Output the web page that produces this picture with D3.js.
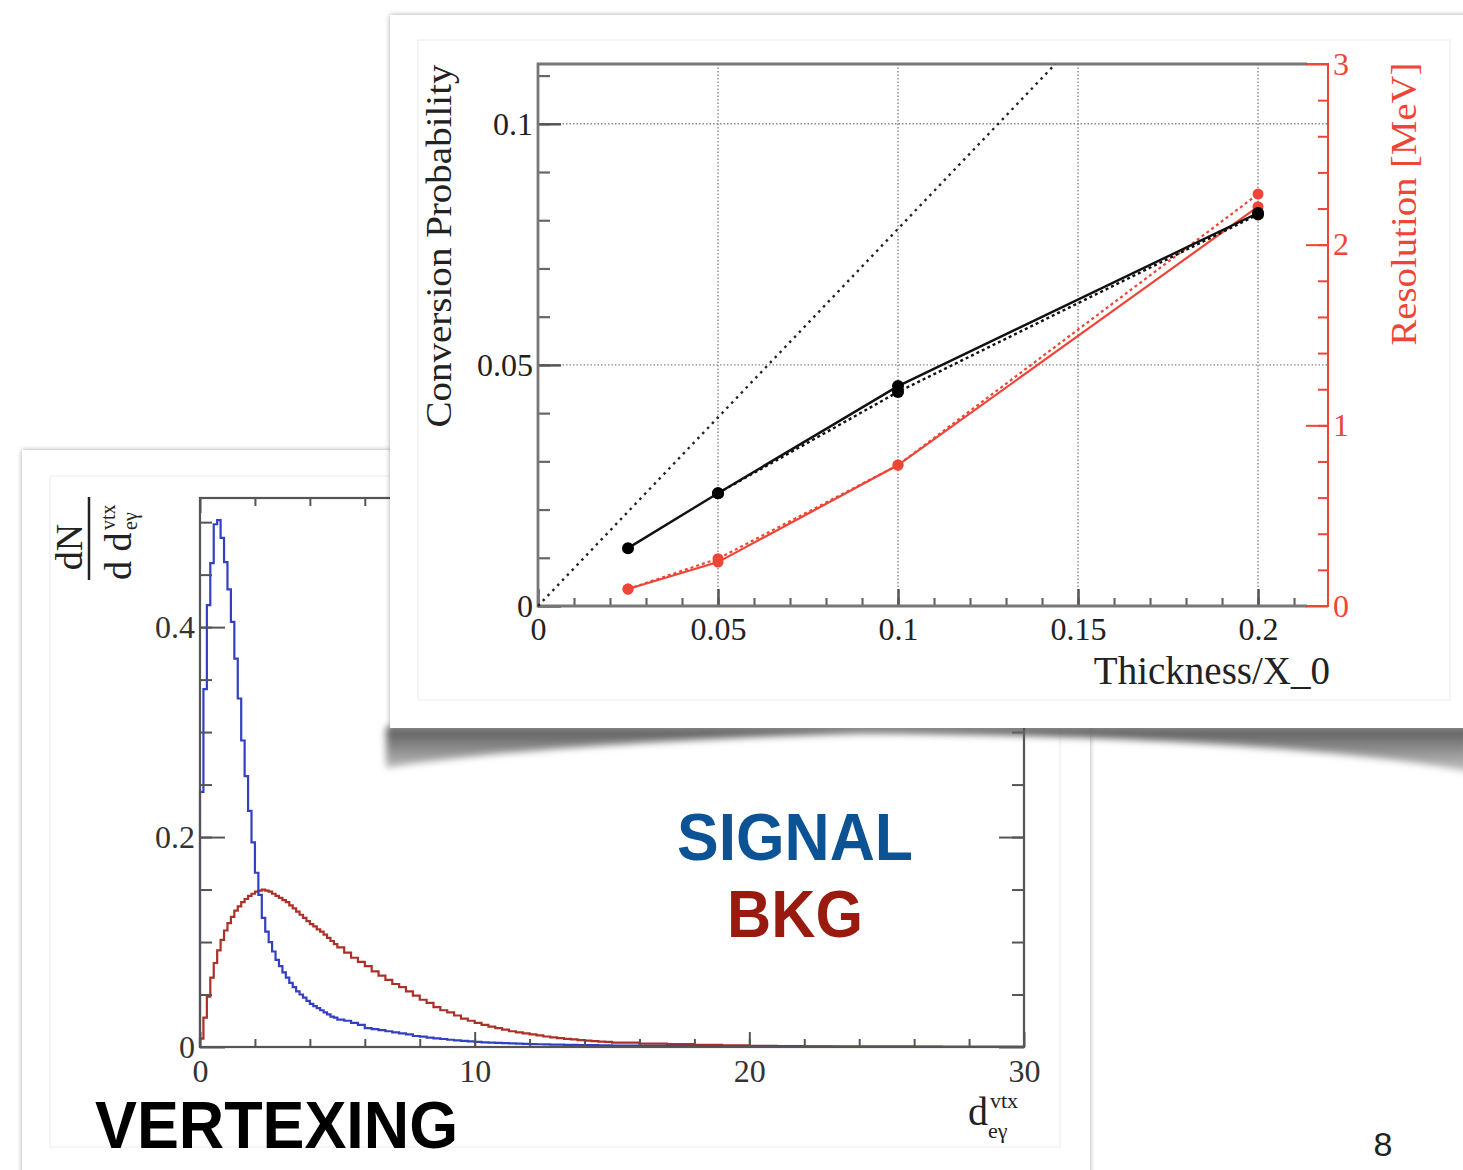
<!DOCTYPE html>
<html>
<head>
<meta charset="utf-8">
<script src="https://cdn.jsdelivr.net/npm/d3@7"></script>
<style>
  body { margin: 0; background: #fff; }
  svg { display: block; }
</style>
</head>
<body>
<script>
// front plot: conversion probability / resolution vs thickness
const thickness = [0.025, 0.05, 0.1, 0.2];
const convProb = [0.0120, 0.0234, 0.0456, 0.0815];
const thicknessAlt = [0.05, 0.1, 0.2];
const convProbAlt = [0.0234, 0.0444, 0.0812];
const resolution = [0.094, 0.243, 0.78, 2.21];
const resolutionAlt = [0.094, 0.262, 0.78, 2.28];
const idealX = [0, 0.1437];
const idealY = [0, 0.1124];
const convTicksX = [0, 0.05, 0.1, 0.15, 0.2];
const convTicksY = [0, 0.05, 0.1];
const resTicks = [0, 1, 2, 3];

// back plot: vertex distance, signal vs background
const binRanges = [[0, 5, 0.125], [5, 15, 0.25], [15, 30, 1]];
const signalFine = [0.243, 0.341, 0.421, 0.461, 0.498, 0.502, 0.485, 0.462, 0.436, 0.405,
  0.370, 0.332, 0.292, 0.258, 0.225, 0.195, 0.166, 0.145, 0.123, 0.110,
  0.100, 0.091, 0.083, 0.077, 0.071, 0.066, 0.061, 0.057, 0.053, 0.050,
  0.047, 0.044, 0.041, 0.039, 0.037, 0.035, 0.033, 0.031, 0.029, 0.028];
const signalMid = [0.026, 0.025, 0.023, 0.021, 0.018, 0.017, 0.016, 0.015, 0.014, 0.013,
  0.012, 0.0105, 0.0098, 0.0090, 0.0083, 0.0076, 0.0069, 0.0063, 0.0058, 0.0053,
  0.0049, 0.0045, 0.0042, 0.0039, 0.0036, 0.0034, 0.0032, 0.0030, 0.0028, 0.0026,
  0.0025, 0.0023, 0.0022, 0.0021, 0.0020, 0.0019, 0.0018, 0.0017, 0.0016, 0.0015];
const signalTail = [0.0014, 0.0012, 0.0010, 0.0009, 0.0008, 0.0007, 0.0006, 0.0005,
  0.0004, 0.0004, 0.0003, 0.0003, 0.0002, 0.0002, 0.0001];
const bkgFine = [0.008, 0.028, 0.048, 0.066, 0.080, 0.092, 0.102, 0.111, 0.118, 0.124,
  0.130, 0.134, 0.138, 0.141, 0.144, 0.146, 0.148, 0.149, 0.150, 0.149,
  0.148, 0.146, 0.144, 0.142, 0.140, 0.138, 0.135, 0.132, 0.129, 0.126,
  0.123, 0.120, 0.117, 0.115, 0.112, 0.110, 0.107, 0.104, 0.101, 0.098];
const bkgMid = [0.095, 0.090, 0.085, 0.081, 0.077, 0.072, 0.068, 0.064, 0.060, 0.057,
  0.053, 0.049, 0.045, 0.042, 0.038, 0.035, 0.033, 0.030, 0.027, 0.025,
  0.023, 0.021, 0.0195, 0.018, 0.0165, 0.015, 0.014, 0.013, 0.012, 0.011,
  0.010, 0.0092, 0.0085, 0.0078, 0.0072, 0.0066, 0.0060, 0.0056, 0.0052, 0.0048];
const bkgTail = [0.0042, 0.0033, 0.0027, 0.0021, 0.0016, 0.0012, 0.0009, 0.0007,
  0.0005, 0.0004, 0.0003, 0.0002, 0.00015, 0.0001, 0.0001];
const vtxTicksX = [0, 10, 20, 30];
const vtxTicksY = [0, 0.2, 0.4];

const serif = "'Liberation Serif', 'Times New Roman', serif";
const sans = "'Liberation Sans', Arial, Helvetica, sans-serif";

const svg = d3.select("body").append("svg")
  .attr("width", 1463)
  .attr("height", 1170);

const defs = svg.append("defs");
defs.append("filter").attr("id", "edge")
  .attr("x", "-10%").attr("y", "-10%").attr("width", "120%").attr("height", "120%")
  .append("feDropShadow")
  .attr("dx", 0).attr("dy", 0).attr("stdDeviation", 2.5)
  .attr("flood-color", "#000").attr("flood-opacity", 0.35);
defs.append("filter").attr("id", "soft")
  .attr("x", "-10%").attr("y", "-100%").attr("width", "120%").attr("height", "300%")
  .append("feGaussianBlur").attr("stdDeviation", 3.5);
let shadeGrad = defs.append("linearGradient").attr("id", "shade")
  .attr("gradientUnits", "userSpaceOnUse")
  .attr("x1", 0).attr("y1", 728).attr("x2", 0).attr("y2", 772);
shadeGrad.append("stop").attr("offset", "0%").attr("stop-color", "#5a5a5a");
shadeGrad.append("stop").attr("offset", "100%").attr("stop-color", "#c4c4c4");

function styleAxis(g, color, width, textColor, size) {
  g.select(".domain").remove();
  g.attr("font-family", serif).attr("font-size", size);
  g.selectAll(".tick line").attr("stroke", color).attr("stroke-width", width);
  g.selectAll(".tick text").attr("fill", textColor);
}

// ---------- back card ----------
svg.append("rect")
  .attr("x", 22).attr("y", 450).attr("width", 1068).attr("height", 760)
  .attr("fill", "#fff").attr("filter", "url(#edge)");
svg.append("rect")
  .attr("x", 50).attr("y", 476).attr("width", 1010).attr("height", 671)
  .attr("fill", "none").attr("stroke", "#ececec");

let xV = d3.scaleLinear().domain([0, 30]).range([200, 1024]);
let yV = d3.scaleLinear().domain([0, 0.523]).range([1047, 498]);

let back = svg.append("g");

let edges = [];
binRanges.forEach(function (r) {
  let n = Math.round((r[1] - r[0]) / r[2]);
  for (let i = 0; i < n; i++) {
    edges.push([r[0] + i * r[2], r[0] + (i + 1) * r[2]]);
  }
});

function histPoints(values) {
  let pts = [[0, 0]];
  values.forEach(function (v, i) {
    pts.push([edges[i][0], v], [edges[i][1], v]);
  });
  return pts;
}

let histLine = d3.line()
  .x(function (d) { return xV(d[0]); })
  .y(function (d) { return yV(d[1]); });

back.append("path")
  .datum(histPoints(bkgFine.concat(bkgMid, bkgTail)))
  .attr("d", histLine)
  .attr("fill", "none")
  .attr("stroke", "#ad3026")
  .attr("stroke-width", 2.2);

back.append("path")
  .datum(histPoints(signalFine.concat(signalMid, signalTail)))
  .attr("d", histLine)
  .attr("fill", "none")
  .attr("stroke", "#3340c4")
  .attr("stroke-width", 2.2);

// axes of back plot
back.append("g").attr("transform", "translate(200,0)")
  .call(d3.axisLeft(yV).tickValues(d3.range(0.05, 0.52, 0.05)).tickSize(-12).tickFormat(""))
  .call(g => styleAxis(g, "#555", 2, "#333", 32));
back.append("g").attr("transform", "translate(200,0)")
  .call(d3.axisLeft(yV).tickValues(vtxTicksY).tickSize(-25).tickPadding(5).tickFormat(d3.format("")))
  .call(g => styleAxis(g, "#555", 2, "#333", 32));
back.append("g").attr("transform", "translate(1024,0)")
  .call(d3.axisRight(yV).tickValues(d3.range(0.05, 0.52, 0.05)).tickSize(-12).tickFormat(""))
  .call(g => styleAxis(g, "#555", 2, "#333", 32));
back.append("g").attr("transform", "translate(1024,0)")
  .call(d3.axisRight(yV).tickValues(vtxTicksY).tickSize(-25).tickFormat(""))
  .call(g => styleAxis(g, "#555", 2, "#333", 32));
back.append("g").attr("transform", "translate(0,1047)")
  .call(d3.axisBottom(xV).tickValues(d3.range(2, 30, 2)).tickSize(-8).tickFormat(""))
  .call(g => styleAxis(g, "#555", 2, "#333", 32));
back.append("g").attr("transform", "translate(0,1047)")
  .call(d3.axisBottom(xV).tickValues(vtxTicksX).tickSize(-15).tickPadding(12).tickFormat(d3.format("")))
  .call(g => styleAxis(g, "#555", 2, "#333", 32));
back.append("g").attr("transform", "translate(0,498)")
  .call(d3.axisTop(xV).tickValues(d3.range(2, 30, 2)).tickSize(-8).tickFormat(""))
  .call(g => styleAxis(g, "#555", 2, "#333", 32));
back.append("g").attr("transform", "translate(0,498)")
  .call(d3.axisTop(xV).tickValues(vtxTicksX).tickSize(-15).tickFormat(""))
  .call(g => styleAxis(g, "#555", 2, "#333", 32));
back.append("rect")
  .attr("x", xV(0)).attr("y", yV(0.523))
  .attr("width", xV(30) - xV(0)).attr("height", yV(0) - yV(0.523))
  .attr("fill", "none").attr("stroke", "#555").attr("stroke-width", 2.2);

// fraction label dN / d d_eγ^vtx
let frac = back.append("g")
  .attr("transform", "translate(89,539) rotate(-90)")
  .attr("font-family", serif).attr("fill", "#222");
frac.append("line").attr("x1", -41).attr("x2", 42).attr("y1", 0).attr("y2", 0)
  .attr("stroke", "#222").attr("stroke-width", 2.5);
frac.append("text").attr("x", -8).attr("y", -7).attr("text-anchor", "middle")
  .attr("font-size", 38).text("dN");
frac.append("text").attr("x", -41).attr("y", 42).attr("font-size", 38).text("d d");
frac.append("text").attr("x", 9).attr("y", 26).attr("font-size", 20).text("vtx");
frac.append("text").attr("x", 9).attr("y", 48).attr("font-size", 20).text("eγ");

let xLab = back.append("g").attr("font-family", serif).attr("fill", "#222");
xLab.append("text").attr("x", 968).attr("y", 1125).attr("font-size", 40).text("d");
xLab.append("text").attr("x", 990).attr("y", 1108).attr("font-size", 22).text("vtx");
xLab.append("text").attr("x", 988).attr("y", 1138).attr("font-size", 22).text("eγ");

// ---------- curled shadow under the front card ----------
svg.append("path")
  .attr("d", "M386,727 L386,768 C480,752 650,740 860,733 C1100,734 1350,748 1470,772 L1470,727 Z")
  .attr("fill", "url(#shade)")
  .attr("filter", "url(#soft)");

// ---------- front card ----------
svg.append("rect")
  .attr("x", 390).attr("y", 15).attr("width", 1100).attr("height", 713)
  .attr("fill", "#fff").attr("filter", "url(#edge)");
svg.append("rect")
  .attr("x", 418).attr("y", 40).attr("width", 1032).attr("height", 660)
  .attr("fill", "none").attr("stroke", "#ececec");

let xC = d3.scaleLinear().domain([0, 0.2136]).range([538, 1307]);
let yC = d3.scaleLinear().domain([0, 0.1124]).range([606, 64]);
let yR = d3.scaleLinear().domain([0, 3]).range([606, 64]);

let front = svg.append("g");

// grid
front.selectAll(".vgrid")
  .data(convTicksX.slice(1))
  .enter()
  .append("line")
  .attr("x1", function (d) { return xC(d); })
  .attr("x2", function (d) { return xC(d); })
  .attr("y1", yC(0.1124)).attr("y2", yC(0))
  .attr("stroke", "#888").attr("stroke-width", 1.4).attr("stroke-dasharray", "1.5,2");
front.selectAll(".hgrid")
  .data(convTicksY.slice(1))
  .enter()
  .append("line")
  .attr("x1", xC(0)).attr("x2", 1328)
  .attr("y1", function (d) { return yC(d); })
  .attr("y2", function (d) { return yC(d); })
  .attr("stroke", "#888").attr("stroke-width", 1.4).attr("stroke-dasharray", "1.5,2");

// left axis
front.append("g").attr("transform", "translate(538,0)")
  .call(d3.axisLeft(yC).tickValues(d3.range(0.01, 0.112, 0.01)).tickSize(-12).tickFormat(""))
  .call(g => styleAxis(g, "#666", 2.2, "#222", 32));
front.append("g").attr("transform", "translate(538,0)")
  .call(d3.axisLeft(yC).tickValues(convTicksY).tickSize(-23).tickPadding(5).tickFormat(d3.format("")))
  .call(g => styleAxis(g, "#555", 2.5, "#222", 32));
// bottom axis
front.append("g").attr("transform", "translate(0,606)")
  .call(d3.axisBottom(xC).tickValues(d3.range(0.01, 0.212, 0.01)).tickSize(-8).tickFormat(""))
  .call(g => styleAxis(g, "#666", 2.2, "#222", 32));
front.append("g").attr("transform", "translate(0,606)")
  .call(d3.axisBottom(xC).tickValues(convTicksX).tickSize(-17).tickPadding(11).tickFormat(d3.format("")))
  .call(g => styleAxis(g, "#555", 2.5, "#222", 32));
// frame
front.append("path")
  .attr("d", "M" + xC(0.2136) + "," + yC(0.1124) + "H" + xC(0) + "V" + yC(0) + "H" + xC(0.2136))
  .attr("fill", "none").attr("stroke", "#777").attr("stroke-width", 2.8);

// right (resolution) axis
const red = "#ee4536";
front.append("g").attr("transform", "translate(1328,0)")
  .call(d3.axisRight(yR).tickValues(d3.range(0.2, 3, 0.2)).tickSize(-10).tickFormat(""))
  .call(g => styleAxis(g, red, 2, red, 32));
front.append("g").attr("transform", "translate(1328,0)")
  .call(d3.axisRight(yR).tickValues(resTicks).tickSize(-22).tickPadding(5).tickFormat(d3.format("")))
  .call(g => styleAxis(g, red, 2, red, 32));
front.append("path")
  .attr("d", "M" + xC(0.2136) + "," + yR(3) + "H1328V" + yR(0) + "H" + xC(0.2136))
  .attr("fill", "none").attr("stroke", red).attr("stroke-width", 2);

// ideal line
let idealPts = idealX.map(function (x, i) { return [x, idealY[i]]; });
front.append("path")
  .datum(idealPts)
  .attr("d", d3.line().x(d => xC(d[0])).y(d => yC(d[1])))
  .attr("stroke", "#222").attr("stroke-width", 2.4).attr("stroke-dasharray", "2.5,4.5")
  .attr("fill", "none");

let lineC = d3.line().x(d => xC(d[0])).y(d => yC(d[1]));
let lineR = d3.line().x(d => xC(d[0])).y(d => yR(d[1]));

let resPts = thickness.map((t, i) => [t, resolution[i]]);
let resAltPts = thickness.map((t, i) => [t, resolutionAlt[i]]);
let convPts = thickness.map((t, i) => [t, convProb[i]]);
let convAltPts = thicknessAlt.map((t, i) => [t, convProbAlt[i]]);

front.append("path").datum(resAltPts).attr("d", lineR)
  .attr("fill", "none").attr("stroke", red).attr("stroke-width", 2.2).attr("stroke-dasharray", "3,3");
front.append("path").datum(resPts).attr("d", lineR)
  .attr("fill", "none").attr("stroke", red).attr("stroke-width", 2.2);
front.selectAll(".resdot")
  .data(resAltPts.concat(resPts))
  .enter()
  .append("circle")
  .attr("cx", d => xC(d[0]))
  .attr("cy", d => yR(d[1]))
  .attr("r", 5.5)
  .attr("fill", red);

front.append("path").datum(convAltPts).attr("d", lineC)
  .attr("fill", "none").attr("stroke", "#111").attr("stroke-width", 2.4).attr("stroke-dasharray", "3,3");
front.append("path").datum(convPts).attr("d", lineC)
  .attr("fill", "none").attr("stroke", "#111").attr("stroke-width", 2.4);
front.selectAll(".convdot")
  .data(convAltPts.concat(convPts))
  .enter()
  .append("circle")
  .attr("cx", d => xC(d[0]))
  .attr("cy", d => yC(d[1]))
  .attr("r", 6)
  .attr("fill", "#000");

// titles of front plot
front.append("text")
  .attr("transform", "translate(451,246) rotate(-90)")
  .attr("text-anchor", "middle")
  .attr("font-family", serif).attr("font-size", 36)
  .attr("textLength", 363).attr("lengthAdjust", "spacingAndGlyphs")
  .attr("fill", "#222")
  .text("Conversion Probability");
front.append("text")
  .attr("transform", "translate(1416,204) rotate(-90)")
  .attr("text-anchor", "middle")
  .attr("font-family", serif).attr("font-size", 36)
  .attr("textLength", 283).attr("lengthAdjust", "spacingAndGlyphs")
  .attr("fill", red)
  .text("Resolution [MeV]");
front.append("text")
  .attr("x", 1330).attr("y", 684)
  .attr("text-anchor", "end")
  .attr("font-family", serif).attr("font-size", 39)
  .attr("fill", "#222")
  .text("Thickness/X_0");

// ---------- slide annotations ----------
svg.append("text")
  .attr("x", 795).attr("y", 860)
  .attr("text-anchor", "middle")
  .attr("font-family", sans).attr("font-weight", "bold").attr("font-size", 66)
  .attr("textLength", 236).attr("lengthAdjust", "spacingAndGlyphs")
  .attr("fill", "#0b5394")
  .text("SIGNAL");
svg.append("text")
  .attr("x", 795).attr("y", 937)
  .attr("text-anchor", "middle")
  .attr("font-family", sans).attr("font-weight", "bold").attr("font-size", 66)
  .attr("textLength", 136).attr("lengthAdjust", "spacingAndGlyphs")
  .attr("fill", "#991a0e")
  .text("BKG");
svg.append("text")
  .attr("x", 95).attr("y", 1148)
  .attr("font-family", sans).attr("font-weight", "bold").attr("font-size", 66)
  .attr("textLength", 363).attr("lengthAdjust", "spacingAndGlyphs")
  .attr("fill", "#000")
  .text("VERTEXING");
svg.append("text")
  .attr("x", 1383).attr("y", 1156)
  .attr("text-anchor", "middle")
  .attr("font-family", sans).attr("font-size", 34)
  .attr("fill", "#222")
  .text("8");
</script>
</body>
</html>
